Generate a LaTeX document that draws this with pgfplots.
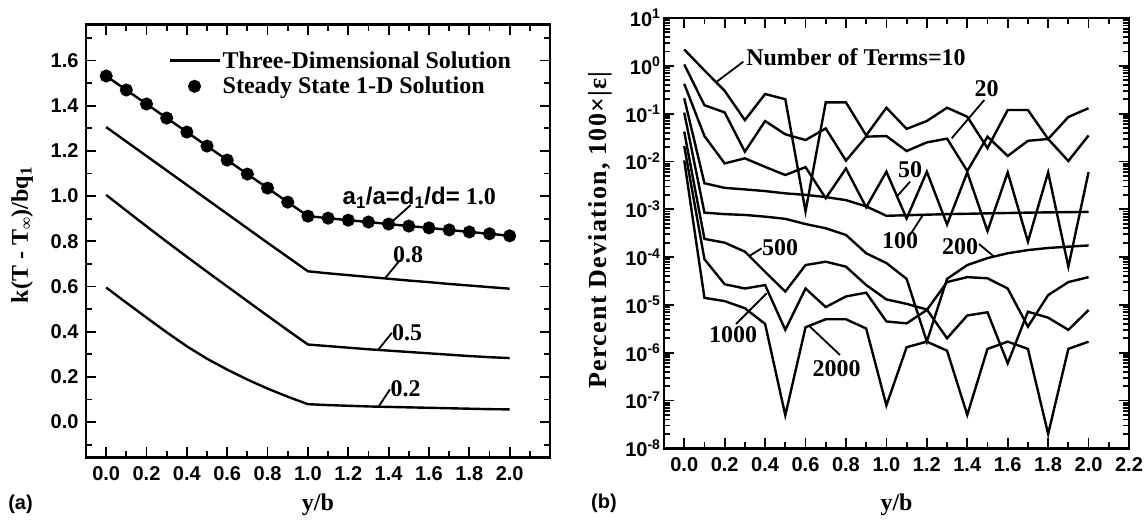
\documentclass[border=0pt]{standalone}
\usepackage{fontspec}
\setmainfont{Liberation Serif}
\newfontfamily\arial{Liberation Sans}
\usepackage{pgfplots}
\usepackage{pgfplotstable}
\pgfplotsset{compat=1.18}

\newcommand\tfont{\arial\bfseries\fontsize{20}{22}\selectfont}
\newcommand\lfont{\rmfamily\bfseries\fontsize{24}{26}\selectfont}

% left panel: k(T-Tinf)/bq1 against y/b
\pgfplotstableread{
x c10 c08 c05 c02
0.0 1.531 1.305 1.005 0.595
0.1 1.469 1.241 0.935 0.528
0.2 1.407 1.177 0.866 0.462
0.3 1.345 1.113 0.798 0.397
0.4 1.283 1.049 0.731 0.335
0.5 1.221 0.985 0.665 0.280
0.6 1.159 0.921 0.600 0.232
0.7 1.097 0.857 0.535 0.188
0.8 1.035 0.793 0.470 0.148
0.9 0.973 0.730 0.406 0.112
1.0 0.911 0.667 0.343 0.079
1.1 0.902 0.658 0.336 0.075
1.2 0.893 0.650 0.329 0.072
1.3 0.885 0.642 0.322 0.069
1.4 0.876 0.634 0.316 0.067
1.5 0.867 0.626 0.310 0.065
1.6 0.859 0.619 0.304 0.063
1.7 0.850 0.611 0.298 0.061
1.8 0.841 0.604 0.292 0.059
1.9 0.833 0.597 0.287 0.057
2.0 0.824 0.590 0.283 0.056
}\tempdata

% right panel: percent deviation for each number of terms
\pgfplotstableread{
x n10 n20 n50 n100 n200 n500 n1000 n2000
0.0 2.2 1.07 0.42 0.21 0.105 0.042 0.021 0.0105
0.1 0.80 0.15 0.034 3.5e-3 8.5e-4 2.4e-4 9e-5 1.4e-5
0.2 0.30 0.106 0.0091 2.8e-3 7.9e-4 2.0e-4 2.7e-5 1.2e-5
0.3 0.073 0.016 0.0116 2.6e-3 7.6e-4 1.3e-4 2.2e-5 8.5e-6
0.4 0.257 0.070 0.0077 2.4e-3 7.0e-4 4.9e-5 2.6e-5 4.0e-6
0.5 0.20 0.037 0.0052 2.15e-3 6.3e-4 1.9e-5 3.0e-6 4.9e-8
0.6 9e-4 0.028 0.0076 2.0e-3 4.9e-4 6.8e-5 2.2e-5 3.4e-6
0.7 0.172 0.049 0.0017 1.8e-3 4.0e-4 8.0e-5 9e-6 5.0e-6
0.8 0.172 0.0104 0.0071 1.55e-3 2.9e-4 6.3e-5 1.5e-5 5.0e-6
0.9 0.035 0.033 0.0011 1.15e-3 1.2e-4 2.6e-5 1.8e-5 3.2e-6
1.0 0.133 0.034 0.0061 7.3e-4 7.5e-5 1.3e-5 4.5e-6 7.9e-8
1.1 0.048 0.0165 6.4e-4 7.5e-4 3.5e-5 1.05e-5 4.1e-6 1.3e-6
1.2 0.070 0.025 0.0061 7.7e-4 1.7e-6 8.0e-6 7.8e-6 1.7e-6
1.3 0.133 0.030 4.8e-4 7.9e-4 3.5e-5 2.0e-6 3.0e-5 1.1e-6
1.4 0.086 0.0063 0.0059 8.05e-4 6.8e-5 6.0e-6 3.8e-5 5.0e-8
1.5 0.019 0.033 3.5e-4 8.2e-4 9.5e-5 7.0e-6 3.6e-5 1.2e-6
1.6 0.119 0.013 0.0059 8.35e-4 1.2e-4 6.0e-7 2.2e-5 1.7e-6
1.7 0.119 0.027 2.1e-4 8.5e-4 1.4e-4 7.2e-6 3.5e-6 1.2e-6
1.8 0.0295 0.0295 0.0059 8.6e-4 1.55e-4 5.4e-6 1.6e-5 2.0e-8
1.9 0.085 0.0102 6.3e-5 8.7e-4 1.65e-4 3.0e-6 3.0e-5 1.2e-6
2.0 0.13 0.035 0.0060 8.8e-4 1.75e-4 7.8e-6 3.8e-5 1.7e-6
}\devdata

\pgfplotsset{
  tec/.style={
    scale only axis,
    axis line style={line width=2.6pt},
    every tick/.style={line width=1.8pt, black},
    major tick length=10pt,
    minor tick length=6pt,
    tick align=inside,
    tick pos=both,
    ticklabel style={font=\tfont},
    /pgf/number format/assume math mode=true,
    xmin=-0.1, xmax=2.2,
    xtick={0,0.2,0.4,0.6,0.8,1.0,1.2,1.4,1.6,1.8,2.0},
    minor xtick={-0.1,0.1,0.3,0.5,0.7,0.9,1.1,1.3,1.5,1.7,1.9,2.1},
    xticklabel style={yshift=-6pt, /pgf/number format/.cd, fixed, fixed zerofill, precision=1},
    cycle list={{black, solid, mark=none}},
    every axis plot post/.append style={line width=2.4pt},
  }
}

\begin{document}
\begin{tikzpicture}
\path[use as bounding box] (0,0) rectangle (1148pt,520pt);

\begin{axis}[tec,
  at={(86pt,62.7pt)}, anchor=south west,
  width=464pt, height=432.6pt,
  ymin=-0.156, ymax=1.758,
  ytick={0,0.2,0.4,0.6,0.8,1.0,1.2,1.4,1.6},
  minor ytick={-0.1,0.1,0.3,0.5,0.7,0.9,1.1,1.3,1.5,1.7},
  yticklabel style={xshift=-4pt, /pgf/number format/.cd, fixed, fixed zerofill, precision=1},
  legend image code/.code={\draw[mark repeat=2,mark phase=2,#1] plot coordinates {(0pt,0pt) (25pt,0pt) (50pt,0pt)};},
  legend cell align=left,
  legend style={at={(0.177,0.943)}, anchor=north west, draw=none, fill=none,
    font=\lfont, row sep=3.5pt, inner sep=0pt},
]
\addplot table[x=x, y=c10] {\tempdata};
\addlegendentry{Three-Dimensional Solution}
\addplot[black, only marks, mark=*, mark size=5.3pt] table[x=x, y=c10] {\tempdata};
\addlegendentry{Steady State 1-D Solution}
\addplot[forget plot] table[x=x, y=c08] {\tempdata};
\addplot[forget plot] table[x=x, y=c05] {\tempdata};
\addplot[forget plot] table[x=x, y=c02] {\tempdata};
\end{axis}

\begin{axis}[tec,
  at={(664pt,71.7pt)}, anchor=south west,
  width=465pt, height=430.3pt,
  ymode=log, ymin=1e-8, ymax=1e1,
  xtick={0,0.2,0.4,0.6,0.8,1.0,1.2,1.4,1.6,1.8,2.0,2.2},
  ytick={1e-8,1e-7,1e-6,1e-5,1e-4,1e-3,1e-2,1e-1,1e0,1e1},
  minor ytick={2e-8,3e-8,4e-8,5e-8,6e-8,7e-8,8e-8,9e-8,
    2e-7,3e-7,4e-7,5e-7,6e-7,7e-7,8e-7,9e-7,
    2e-6,3e-6,4e-6,5e-6,6e-6,7e-6,8e-6,9e-6,
    2e-5,3e-5,4e-5,5e-5,6e-5,7e-5,8e-5,9e-5,
    2e-4,3e-4,4e-4,5e-4,6e-4,7e-4,8e-4,9e-4,
    2e-3,3e-3,4e-3,5e-3,6e-3,7e-3,8e-3,9e-3,
    2e-2,3e-2,4e-2,5e-2,6e-2,7e-2,8e-2,9e-2,
    0.2,0.3,0.4,0.5,0.6,0.7,0.8,0.9,
    2,3,4,5,6,7,8,9},
  yticklabels={10\textsuperscript{-8},10\textsuperscript{-7},10\textsuperscript{-6},10\textsuperscript{-5},10\textsuperscript{-4},10\textsuperscript{-3},10\textsuperscript{-2},10\textsuperscript{-1},10\textsuperscript{0},10\textsuperscript{1}},
]
\addplot table[x=x, y=n10] {\devdata};
\addplot table[x=x, y=n20] {\devdata};
\addplot table[x=x, y=n50] {\devdata};
\addplot table[x=x, y=n100] {\devdata};
\addplot table[x=x, y=n200] {\devdata};
\addplot table[x=x, y=n500] {\devdata};
\addplot table[x=x, y=n1000] {\devdata};
\addplot table[x=x, y=n2000] {\devdata};
\end{axis}

% axis titles and panel tags
\node[rotate=90, font=\lfont] at (22pt,285pt) {k(T - T\textsubscript{∞})/bq\textsubscript{1}};
\node[rotate=90, font=\rmfamily\bfseries\fontsize{26}{28}\selectfont\addfontfeature{LetterSpace=5}] at (600pt,290pt) {Percent Deviation, 100×|ε|};
\node[font=\lfont, anchor=base] at (318pt,10pt) {y/b};
\node[font=\lfont, anchor=base] at (896.5pt,10pt) {y/b};
\node[font=\tfont] at (20.5pt,16pt) {(a)};
\node[font=\tfont] at (604pt,16.5pt) {(b)};

% curve labels, left
\begin{scope}[line width=1.8pt]
\node[font=\lfont, anchor=base east] at (500pt,315pt) {{\arial a\textsubscript{1}/a=d\textsubscript{1}/d=} 1.0};
\draw (410.7pt,315pt) -- (391pt,297.3pt);
\node[font=\lfont] at (408pt,265pt) {0.8};
\draw (400pt,260pt) -- (385pt,241.7pt);
\node[font=\lfont] at (407pt,187.5pt) {0.5};
\draw (392pt,187.3pt) -- (378pt,170pt);
\node[font=\lfont] at (405.5pt,131pt) {0.2};
\draw (390pt,130.7pt) -- (379pt,114pt);

% curve labels, right
\node[font=\lfont] at (856pt,463pt) {Number of Terms=10};
\draw (716.7pt,438.3pt) -- (743.3pt,458.3pt);
\node[font=\lfont] at (986.7pt,431.7pt) {20};
\draw (984.3pt,420pt) -- (951.7pt,381.7pt);
\node[font=\lfont] at (910pt,350pt) {50};
\draw (910pt,338.3pt) -- (896.7pt,323.3pt);
\node[font=\lfont] at (900pt,279pt) {100};
\draw (910pt,285pt) -- (923.3pt,305.7pt);
\node[font=\lfont] at (960pt,273.3pt) {200};
\draw (979pt,276pt) -- (993.3pt,264pt);
\node[font=\lfont] at (780pt,272.5pt) {500};
\draw (761.7pt,271.7pt) -- (749.3pt,264pt);
\node[font=\lfont] at (733pt,185pt) {1000};
\draw (736pt,196pt) -- (766.7pt,226.7pt);
\node[font=\lfont] at (836.7pt,151pt) {2000};
\draw (840pt,165pt) -- (810pt,193.3pt);
\end{scope}
\end{tikzpicture}
\end{document}
